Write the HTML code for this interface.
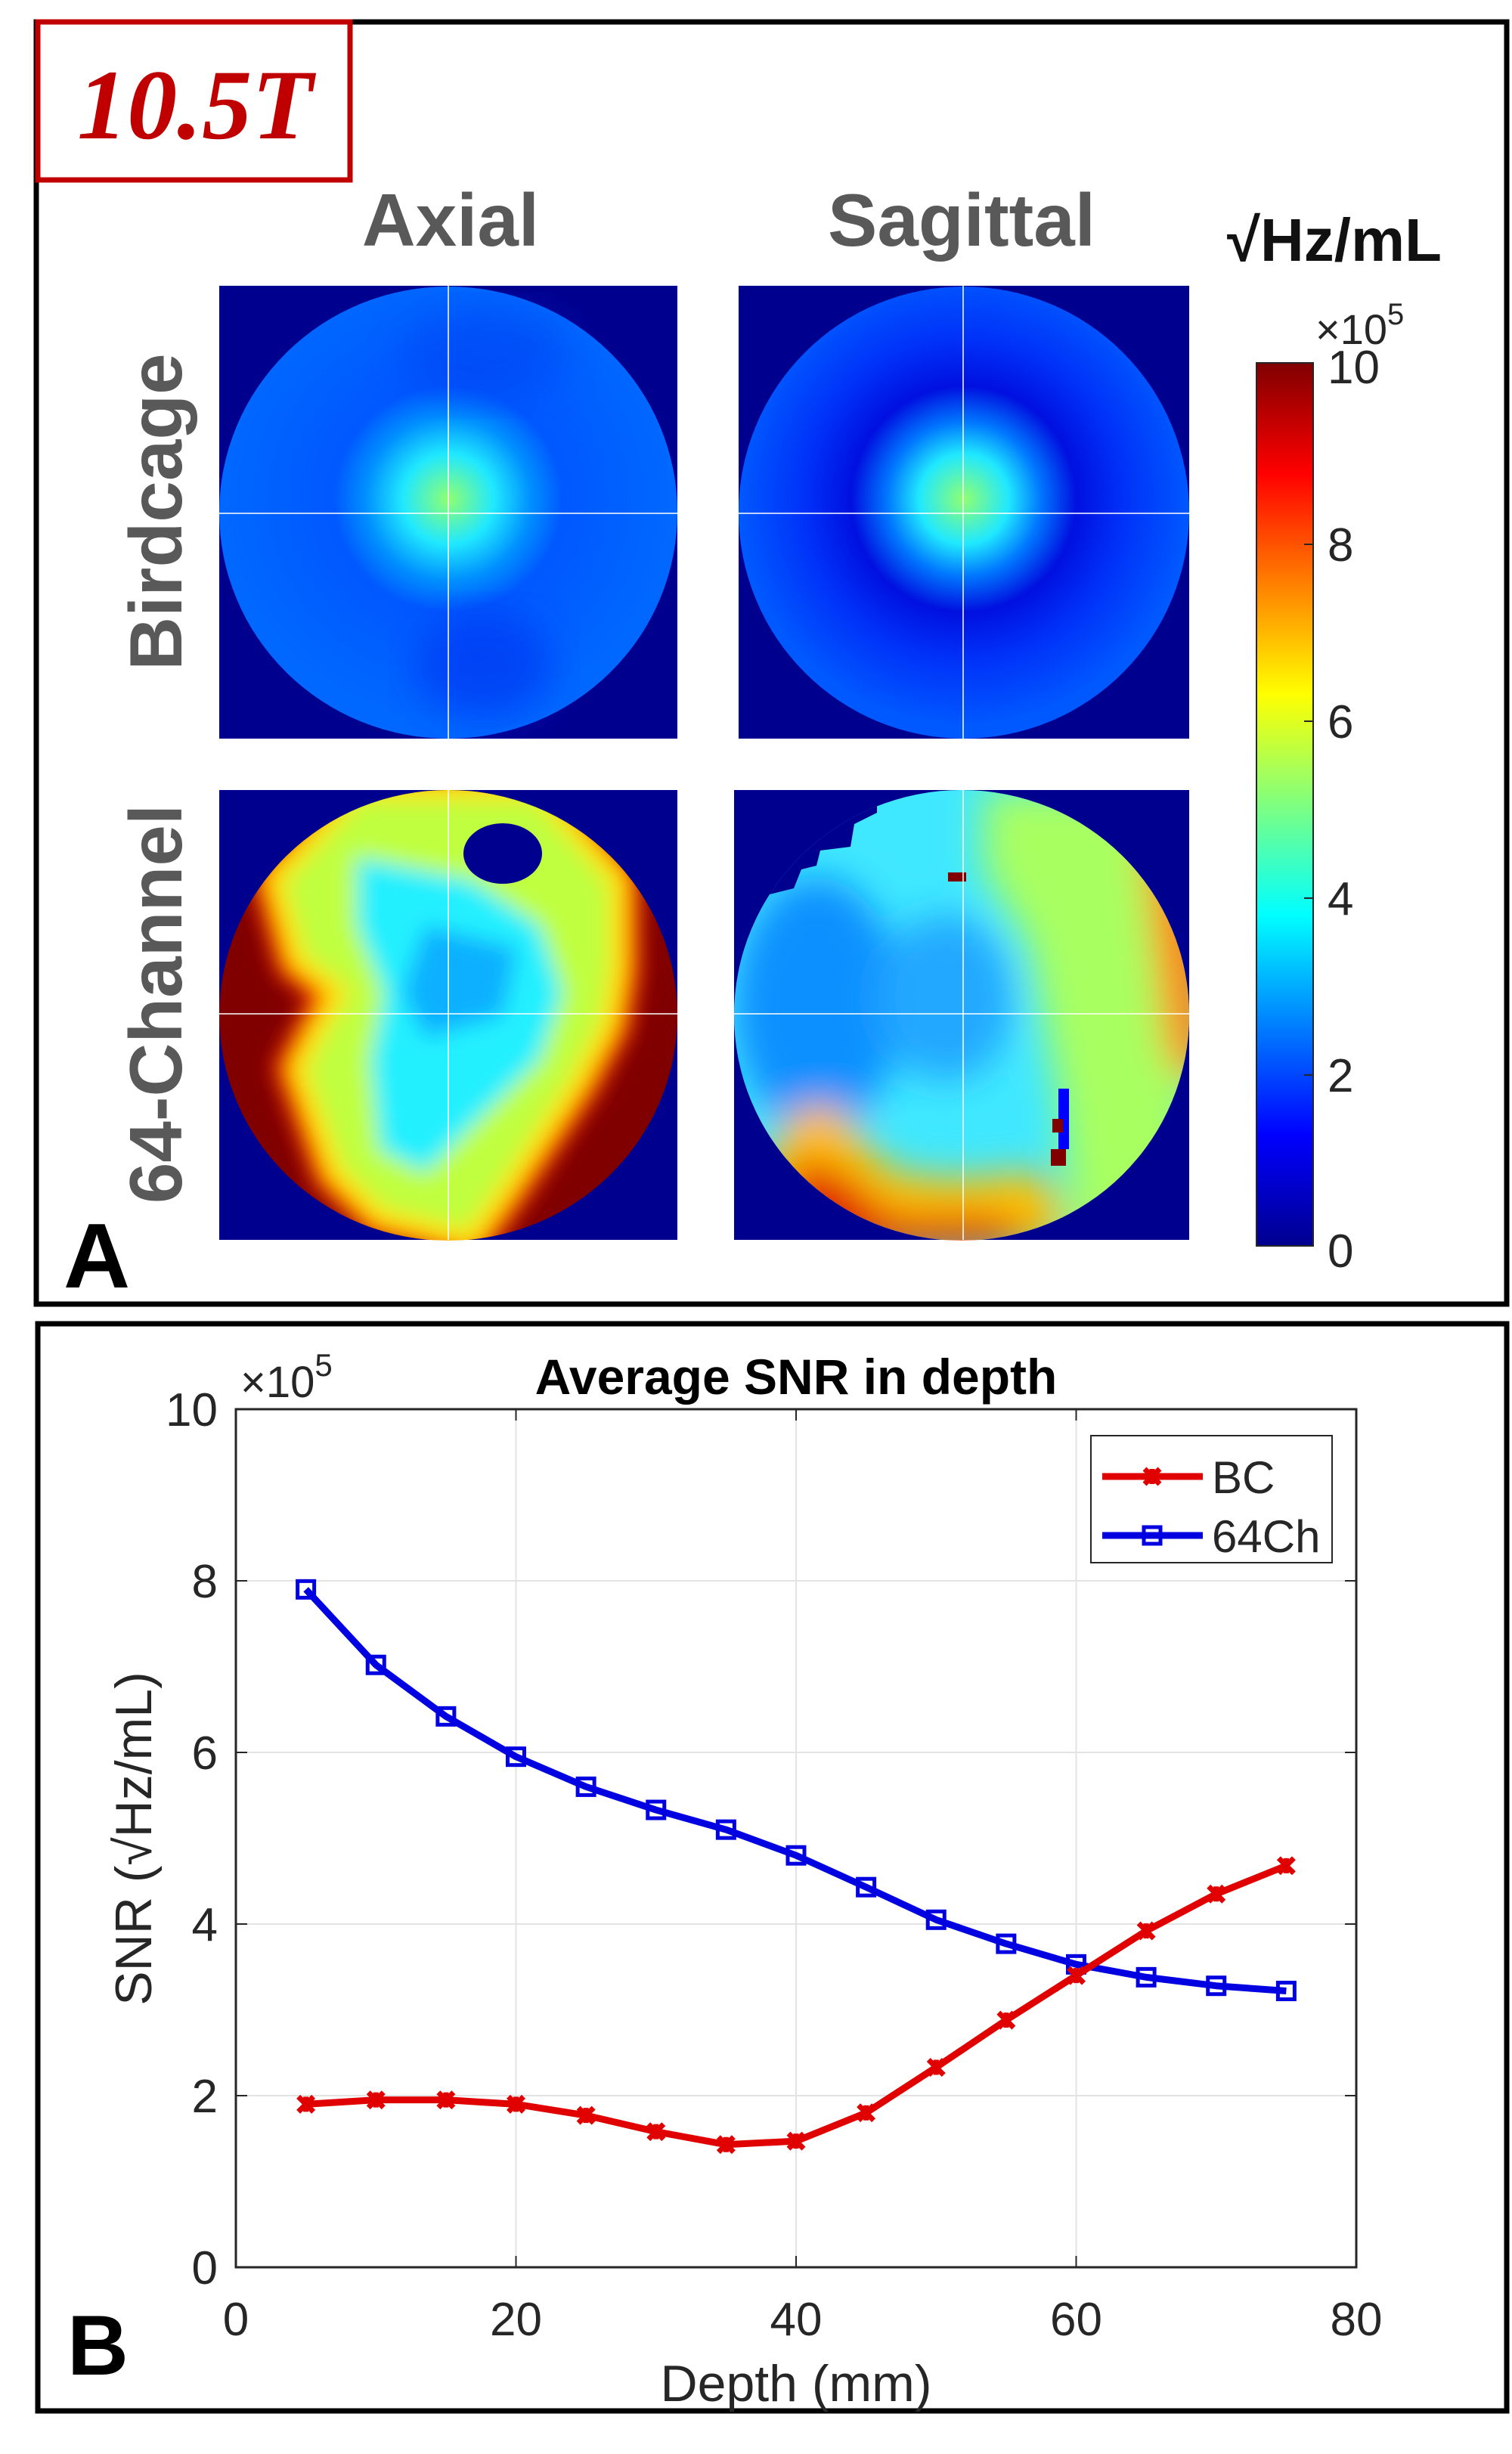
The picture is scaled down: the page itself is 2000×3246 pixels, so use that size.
<!DOCTYPE html>
<html><head><meta charset="utf-8"><style>
html,body{margin:0;padding:0;background:#fff;width:2000px;height:3246px;overflow:hidden}
svg{position:absolute;left:0;top:0}
text{font-family:"Liberation Sans",sans-serif}
</style></head><body>
<svg id="fig" width="2000" height="3246" viewBox="0 0 2000 3246" xmlns="http://www.w3.org/2000/svg">
<defs>
<linearGradient id="jet" x1="0" y1="1" x2="0" y2="0">
<stop offset="0" stop-color="#00008f"/><stop offset="0.125" stop-color="#0000ff"/><stop offset="0.375" stop-color="#00ffff"/><stop offset="0.625" stop-color="#ffff00"/><stop offset="0.875" stop-color="#ff0000"/><stop offset="1" stop-color="#800000"/>
</linearGradient>
<radialGradient id="bcAx" cx="0.5" cy="0.47" r="0.5">
<stop offset="0" stop-color="#90ff70"/><stop offset="0.2" stop-color="#20e8ff"/><stop offset="0.36" stop-color="#0090ff"/><stop offset="0.5" stop-color="#0058ff"/><stop offset="1" stop-color="#0068ff"/>
</radialGradient>
<radialGradient id="bcSag" cx="0.5" cy="0.47" r="0.5">
<stop offset="0" stop-color="#90ff70"/><stop offset="0.2" stop-color="#20e8ff"/><stop offset="0.34" stop-color="#0078ff"/><stop offset="0.5" stop-color="#0010e0"/><stop offset="0.7" stop-color="#0030f8"/><stop offset="1" stop-color="#0058ff"/>
</radialGradient>
<filter id="blur" x="-20%" y="-20%" width="140%" height="140%"><feGaussianBlur stdDeviation="14"/></filter>
<filter id="blur2" x="-20%" y="-20%" width="140%" height="140%"><feGaussianBlur stdDeviation="25"/></filter>
<clipPath id="c1"><ellipse cx="593" cy="1343" rx="303" ry="298"/></clipPath>
<clipPath id="c2"><ellipse cx="1272" cy="1343" rx="301" ry="298"/></clipPath>
</defs>

<!-- Panel A -->
<rect x="48" y="29" width="1945" height="1696" fill="none" stroke="#000" stroke-width="7"/>
<rect x="50" y="29" width="413" height="209" fill="#fff" stroke="#c00000" stroke-width="7"/>
<text x="258" y="183" text-anchor="middle" font-style="italic" font-weight="bold" font-size="132" fill="#c00000" style="font-family:'Liberation Serif',serif">10.5T</text>
<text x="596" y="325" text-anchor="middle" font-weight="bold" font-size="98" fill="#595959">Axial</text>
<text x="1272" y="325" text-anchor="middle" font-weight="bold" font-size="98" fill="#595959">Sagittal</text>
<text x="1765" y="345" text-anchor="middle" font-weight="bold" font-size="80" fill="#111">√Hz/mL</text>
<text transform="translate(240,677) rotate(-90)" text-anchor="middle" font-weight="bold" font-size="98" fill="#595959">Birdcage</text>
<text transform="translate(240,1328) rotate(-90)" text-anchor="middle" font-weight="bold" font-size="98" fill="#595959">64-Channel</text>
<text x="84" y="1703" font-weight="bold" font-size="122" fill="#000">A</text>

<!-- BC axial -->
<g>
<rect x="290" y="378" width="606" height="599" fill="#00008f"/>
<ellipse cx="593" cy="678" rx="303" ry="299" fill="url(#bcAx)"/>
<ellipse cx="640" cy="880" rx="90" ry="70" fill="#0030f0" opacity="0.6" filter="url(#blur2)"/>
<ellipse cx="640" cy="470" rx="110" ry="60" fill="#0040f0" opacity="0.5" filter="url(#blur2)"/>
<line x1="593" y1="378" x2="593" y2="977" stroke="#fff" stroke-width="1.5"/>
<line x1="290" y1="679" x2="896" y2="679" stroke="#fff" stroke-width="1.5"/>
</g>
<!-- BC sagittal -->
<g>
<rect x="977" y="378" width="596" height="599" fill="#00008f"/>
<ellipse cx="1275" cy="678" rx="298" ry="299" fill="url(#bcSag)"/>
<line x1="1274" y1="378" x2="1274" y2="977" stroke="#fff" stroke-width="1.5"/>
<line x1="977" y1="679" x2="1573" y2="679" stroke="#fff" stroke-width="1.5"/>
</g>
<!-- 64ch axial -->
<g>
<rect x="290" y="1045" width="606" height="595" fill="#00008f"/>
<g clip-path="url(#c1)">
<rect x="290" y="1045" width="606" height="595" fill="#800000"/>
<g filter="url(#blur)">
<path d="M363 1164 L393 1271 L448 1313 L423 1355 L393 1414 L442 1551 L502 1610 L623 1640 L666 1581 L765 1432 L806 1355 L818 1283 L818 1164 L714 1045 L472 1045 Z" fill="#ff2000" stroke="#ff3000" stroke-width="60"/>
<path d="M363 1164 L393 1271 L448 1313 L423 1355 L393 1414 L442 1551 L502 1610 L623 1640 L666 1581 L765 1432 L806 1355 L818 1283 L818 1164 L714 1045 L472 1045 Z" fill="#c0ff40" stroke="#ffe000" stroke-width="24"/>
<path d="M472 1134 L623 1164 L714 1224 L744 1313 L714 1402 L623 1491 L563 1551 L502 1521 L490 1402 L508 1313 L472 1224 Z" fill="#20f0ff"/>
<path d="M563 1224 L684 1254 L666 1343 L563 1373 L532 1313 Z" fill="#10b0ff"/>
</g>
<ellipse cx="665" cy="1129" rx="52" ry="40" fill="#00008f"/>
</g>
<line x1="593" y1="1045" x2="593" y2="1640" stroke="#fff" stroke-width="1.5"/>
<line x1="290" y1="1341" x2="896" y2="1341" stroke="#fff" stroke-width="1.5"/>
</g>
<!-- 64ch sagittal -->
<g>
<rect x="971" y="1045" width="602" height="595" fill="#00008f"/>
<g clip-path="url(#c2)">
<rect x="971" y="1045" width="602" height="595" fill="#40e8ff"/>
<g filter="url(#blur2)">
<ellipse cx="1080" cy="1330" rx="110" ry="170" fill="#1090ff"/>
<ellipse cx="1250" cy="1320" rx="90" ry="110" fill="#20a8ff"/>
<path d="M1300 1045 L1573 1045 L1573 1640 L1420 1640 L1400 1450 L1360 1250 L1300 1150 Z" fill="#a8ff60"/>
<path d="M1510 1100 L1600 1100 L1600 1450 L1545 1400 Z" fill="#ff8000"/>
<path d="M1000 1560 L1050 1470 L1100 1460 L1180 1550 L1260 1560 L1380 1550 L1420 1640 L1000 1640 Z" fill="#ffc000"/>
<path d="M1020 1620 L1060 1530 L1110 1550 L1180 1610 L1320 1610 L1380 1650 L1020 1660 Z" fill="#e01000"/>
</g>
<path d="M971 1045 L1160 1045 L1160 1075 L1130 1090 L1125 1120 L1085 1125 L1080 1145 L1060 1150 L1050 1175 L1010 1185 L971 1190 Z" fill="#00008f"/>
<rect x="1254" y="1154" width="24" height="12" fill="#800000"/>
<rect x="1400" y="1440" width="14" height="80" fill="#0000ff"/>
<rect x="1392" y="1480" width="14" height="18" fill="#800000"/>
<rect x="1390" y="1520" width="20" height="22" fill="#800000"/>
</g>
<line x1="1274" y1="1045" x2="1274" y2="1640" stroke="#fff" stroke-width="1.5"/>
<line x1="971" y1="1341" x2="1573" y2="1341" stroke="#fff" stroke-width="1.5"/>
</g>
<!-- colorbar -->
<g>
<rect x="1662" y="480" width="75" height="1168" fill="url(#jet)" stroke="#262626" stroke-width="2"/>
<g stroke="#262626" stroke-width="2">
<line x1="1725" y1="720" x2="1737" y2="720"/><line x1="1725" y1="954" x2="1737" y2="954"/><line x1="1725" y1="1188" x2="1737" y2="1188"/><line x1="1725" y1="1422" x2="1737" y2="1422"/>
</g>
<g font-size="62" fill="#262626">
<text x="1756" y="507">10</text>
<text x="1756" y="742">8</text>
<text x="1756" y="976">6</text>
<text x="1756" y="1210">4</text>
<text x="1756" y="1444">2</text>
<text x="1756" y="1676">0</text>
</g>
<text x="1740" y="455" font-size="56" fill="#262626">×10<tspan dy="-26" font-size="40">5</tspan></text>
</g>

<!-- Panel B -->
<rect x="50" y="1751" width="1943" height="1438" fill="none" stroke="#000" stroke-width="7"/>
<g id="chart"></g>
<text x="89" y="3141" font-weight="bold" font-size="112" fill="#000">B</text>
</svg>
<script>
const depths = [5,10,15,20,25,30,35,40,45,50,55,60,65,70,75];
const bcValues = [1.9,1.95,1.95,1.9,1.77,1.58,1.43,1.47,1.8,2.33,2.88,3.4,3.92,4.35,4.68];
const ch64Values = [7.9,7.02,6.42,5.95,5.6,5.33,5.1,4.8,4.43,4.05,3.77,3.53,3.38,3.28,3.22];
const xTicks = [0,20,40,60,80];
const yTicks = [0,2,4,6,8,10];
const seriesNames = ["BC","64Ch"];

const NS = "http://www.w3.org/2000/svg";
const L = 312, R = 1794, T = 1864, B = 2999;
const xMin = 0, xMax = 80, yMin = 0, yMax = 10;
function xs(v){ return L + (v - xMin) / (xMax - xMin) * (R - L); }
function ys(v){ return B - (v - yMin) / (yMax - yMin) * (B - T); }
const g = document.getElementById('chart');
function mk(tag, attrs, parent){
  const e = document.createElementNS(NS, tag);
  for (const k in attrs) e.setAttribute(k, attrs[k]);
  (parent || g).appendChild(e);
  return e;
}
xTicks.forEach(v => {
  if (v > xMin && v < xMax) {
    const l = mk('line', {x1: xs(v), x2: xs(v), y1: T, y2: B, stroke: '#e3e3e3', 'stroke-width': 2});
    
    
  }
});
yTicks.forEach(v => {
  if (v > yMin && v < yMax) {
    const l = mk('line', {x1: L, x2: R, y1: ys(v), y2: ys(v), stroke: '#e3e3e3', 'stroke-width': 2});
    
    
  }
});
const box = mk('rect', {x: L, y: T, width: R - L, height: B - T, fill: 'none', stroke: '#262626', 'stroke-width': 3});


xTicks.forEach(v => {
  mk('line', {x1: xs(v), x2: xs(v), y1: B, y2: B - 15, stroke: '#262626', 'stroke-width': 2});
  mk('line', {x1: xs(v), x2: xs(v), y1: T, y2: T + 15, stroke: '#262626', 'stroke-width': 2});
  const t = mk('text', {x: xs(v), y: 3089, 'text-anchor': 'middle', 'font-size': 62, fill: '#262626'});
  t.textContent = v;
  
  
});
yTicks.forEach(v => {
  mk('line', {x1: L, x2: L + 15, y1: ys(v), y2: ys(v), stroke: '#262626', 'stroke-width': 2});
  mk('line', {x1: R, x2: R - 15, y1: ys(v), y2: ys(v), stroke: '#262626', 'stroke-width': 2});
  const t = mk('text', {x: 288, y: ys(v) + 22, 'text-anchor': 'end', 'font-size': 62, fill: '#262626'});
  t.textContent = v;
  
  
});
const ex = mk('text', {x: 318, y: 1848, 'font-size': 58, fill: '#262626'});
ex.innerHTML = '×10<tspan dy="-28" font-size="42">5</tspan>';


const title = mk('text', {x: 1053, y: 1844, 'text-anchor': 'middle', 'font-size': 66, 'font-weight': 'bold', fill: '#000'});
title.textContent = 'Average SNR in depth';


const xl = mk('text', {x: 1053, y: 3176, 'text-anchor': 'middle', 'font-size': 68, fill: '#262626'});
xl.textContent = 'Depth (mm)';


const yl = mk('text', {transform: 'translate(200,2432) rotate(-90)', 'text-anchor': 'middle', 'font-size': 68, fill: '#262626'});
yl.textContent = 'SNR (√Hz/mL)';



function drawX(cx, cy, color, parent){
  const s = 10;
  mk('path', {d: `M${cx-s} ${cy-s} L${cx+s} ${cy+s} M${cx-s} ${cy+s} L${cx+s} ${cy-s} M${cx} ${cy-s} L${cx} ${cy+s}`, stroke: color, 'stroke-width': 7, fill: 'none'}, parent);
}
function drawSq(cx, cy, color, parent){
  mk('rect', {x: cx - 11, y: cy - 11, width: 22, height: 22, stroke: color, 'stroke-width': 5, fill: 'none'}, parent);
}
function series(vals, color, marker, name){
  const sg = mk('g', {});
  
  
  const pts = depths.map((d, i) => xs(d) + ',' + ys(vals[i])).join(' ');
  mk('polyline', {points: pts, fill: 'none', stroke: color, 'stroke-width': 9, 'stroke-linejoin': 'round'}, sg);
  depths.forEach((d, i) => marker(xs(d), ys(vals[i]), color, sg));
}
series(ch64Values, '#0000e0', drawSq, 'series-64ch');
series(bcValues, '#e00000', drawX, 'series-bc');

const lg = mk('g', {});


mk('rect', {x: 1443, y: 1899, width: 319, height: 168, fill: '#fff', stroke: '#262626', 'stroke-width': 2}, lg);
const legY = [1953, 2031];
const legC = ['#e00000', '#0000e0'];
seriesNames.forEach((n, i) => {
  const e = mk('g', {}, lg);
  
  
  mk('line', {x1: 1458, x2: 1591, y1: legY[i], y2: legY[i], stroke: legC[i], 'stroke-width': 9}, e);
  if (i === 0) drawX(1524, legY[i], legC[i], e); else drawSq(1524, legY[i], legC[i], e);
  const t = mk('text', {x: 1603, y: legY[i] + 22, 'font-size': 60, fill: '#262626'}, e);
  t.textContent = n;
});
</script>
</body></html>
